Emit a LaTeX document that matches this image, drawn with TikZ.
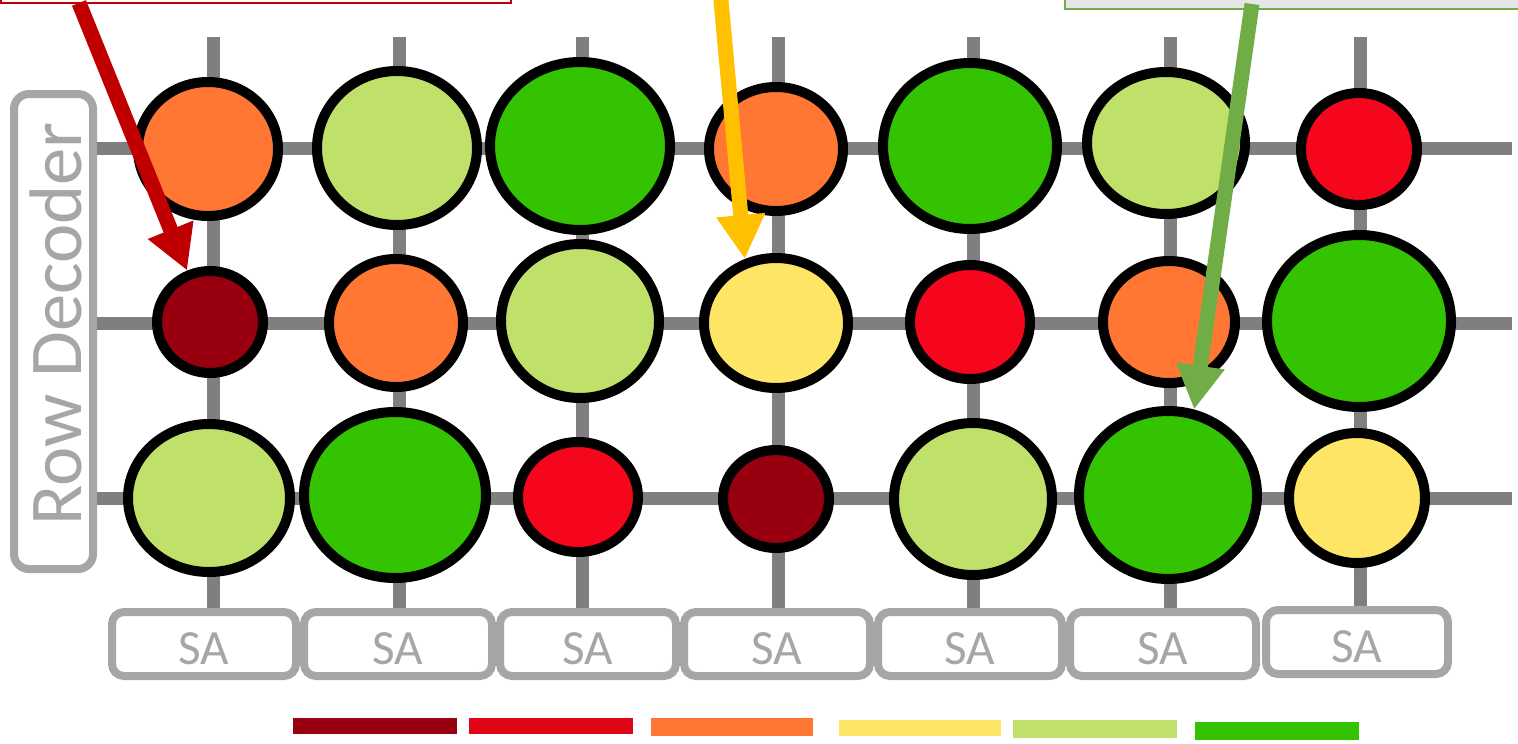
\documentclass[tikz,border=0pt]{standalone}
\usepackage{fontspec}
\setmainfont{Carlito}
\usetikzlibrary{arrows.meta,shapes.geometric}
\definecolor{gridx}{HTML}{7F7F7F}
\definecolor{boxx}{HTML}{A6A6A6}
\definecolor{dkredx}{HTML}{980010}
\definecolor{redx}{HTML}{F5061D}
\definecolor{legredx}{HTML}{E10518}
\definecolor{orangex}{HTML}{FF7733}
\definecolor{yellowx}{HTML}{FFE565}
\definecolor{lgreenx}{HTML}{BFE16A}
\definecolor{greenx}{HTML}{33C300}
\definecolor{arredx}{HTML}{C00000}
\definecolor{argoldx}{HTML}{FFC000}
\definecolor{argreenx}{HTML}{70AD47}
\definecolor{notebg}{HTML}{E7E6E6}
\newdimen\pu \pu=0.025cm
\tikzset{
  wire/.style={gridx,line width=13\pu},
  cell/.style n args={3}{ellipse,draw=black,line width=10\pu,fill=#1,inner sep=0pt,minimum width=#2\pu,minimum height=#3\pu},
  sabox/.style={draw=boxx,line width=8\pu,rounded corners=12\pu,fill=white,text=boxx,font=\fontsize{35}{35}\selectfont,text height=29pt,text depth=0pt,minimum height=64\pu,inner sep=0pt},
  decbox/.style={draw=boxx,line width=8\pu,rounded corners=15\pu,fill=white,inner sep=0pt},
  dectext/.style={rotate=90,text=boxx,font=\fontsize{53}{53}\selectfont,inner sep=0pt},
  note/.style={rectangle,line width=2.5\pu,inner sep=0pt},
  ar/.style={line width=15\pu,-{Triangle[length=1.1cm,width=1.15cm]}}
}
\begin{document}
\begin{tikzpicture}[x=0.025cm,y=-0.025cm]
\useasboundingbox (0,0) rectangle (1518,743);
\node[note,draw=arredx,fill=white,minimum width=510\pu,minimum height=26\pu] (rednote) at (256,-10) {};
\node[note,draw=argreenx,fill=notebg,minimum width=470\pu,minimum height=34\pu] (greennote) at (1300,-8) {};
\foreach \x in {213,399,582,778,973,1170,1360}
  \draw[wire] (\x,37) -- (\x,612);
\foreach \y in {148,323,498}
  \draw[wire] (95,\y) -- (1512,\y);
\foreach \nm/\cx/\cy/\col/\w/\h in {
  c11/208/149/orangex/140/134, c12/397/148/lgreenx/160/154, c13/580/146/greenx/180/168,
  c14/776/149/orangex/134/124, c15/970/146/greenx/174/166, c16/1166/143/lgreenx/158/142,
  c17/1359/149/redx/116/112,
  c21/210/322/dkredx/106/102, c22/396/323/orangex/134/128, c23/580/321/lgreenx/158/154,
  c24/776/323/yellowx/144/130, c25/970/322/redx/120/114, c26/1169/322/orangex/132/122,
  c27/1359/321/greenx/184/172,
  c31/209/498/lgreenx/162/148, c32/395/495/greenx/182/166, c33/578/497/redx/120/110,
  c34/776/499/dkredx/106/98, c35/973/499/lgreenx/158/152, c36/1168/495/greenx/178/168,
  c37/1357/498/yellowx/136/130}
  \node[cell={\col}{\w}{\h}] (\nm) at (\cx,\cy) {};
\foreach \i/\cx/\cy/\w in {1/204/644/184, 2/398/644/188, 3/588/644/176, 4/777/644/186,
  5/970/644/184, 6/1163/644/186, 7/1357/642/182}
  \node[sabox,minimum width=\w\pu] (sa\i) at (\cx,\cy) {SA};
\node[decbox,minimum width=79\pu,minimum height=475\pu] (rowdec) at (53.5,331.5) {};
\node[dectext] (rowdectext) at (56,324) {Row Decoder};
\coordinate (redtail) at (79,3);
\coordinate (goldtail) at (720,-10);
\coordinate (greentail) at (1252,4);
\draw[ar,arredx] (redtail) -- (c21.114);
\draw[ar,argoldx] (goldtail) -- (c24.116);
\draw[ar,argreenx] (greentail) -- (c36.73);
\fill[dkredx] (293,718) rectangle (457,734);
\fill[legredx] (469,718) rectangle (633,734);
\fill[orangex] (651,718) rectangle (813,736);
\fill[yellowx] (839,720) rectangle (1001,736);
\fill[lgreenx] (1013,720) rectangle (1177,738);
\fill[greenx] (1195,722) rectangle (1359,740);
\end{tikzpicture}
\end{document}
